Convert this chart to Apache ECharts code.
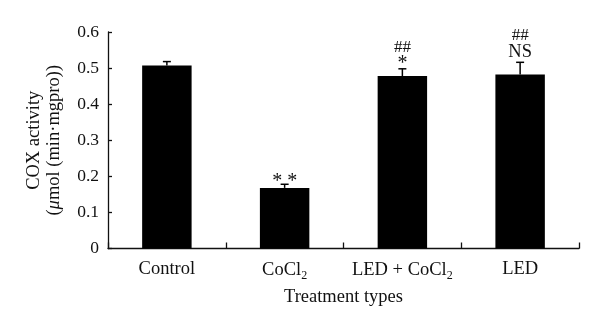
<!DOCTYPE html>
<html>
<head>
<meta charset="utf-8">
<script src="https://cdn.jsdelivr.net/npm/echarts@6/dist/echarts.min.js"></script>
<style>
  html, body { margin: 0; padding: 0; background: #fff; }
  #chart { width: 600px; height: 329px; }
</style>
</head>
<body>
<div id="chart"></div>
<script>
// COX activity per treatment group (mean and upper error)
const categories = ['Control', 'CoCl2', 'LED + CoCl2', 'LED'];
const coxActivity = [0.507, 0.168, 0.478, 0.482];
const errorUpper = [0.011, 0.010, 0.020, 0.034];
// significance marks drawn above each bar, bottom line first
const significance = [[], ['* *'], ['*', '##'], ['NS', '##']];
const yTicks = [0, 0.1, 0.2, 0.3, 0.4, 0.5, 0.6];

const FONT = 'Liberation Serif';
const chart = echarts.init(document.getElementById('chart'), null, { renderer: 'canvas' });

const errorData = coxActivity.map((v, i) => [i, v, v + errorUpper[i]]);

chart.setOption({
  animation: false,
  grid: { left: 108, right: 21, top: 32, bottom: 80.5 },
  xAxis: {
    type: 'category',
    data: categories,
    name: 'Treatment types',
    nameLocation: 'middle',
    nameGap: 39,
    nameTextStyle: { fontFamily: FONT, fontSize: 18.5, color: '#111' },
    axisLine: { lineStyle: { color: '#111', width: 1.3 } },
    axisTick: { show: true, inside: true, interval: 0, length: 6, lineStyle: { color: '#111', width: 1.3 } },
    axisLabel: {
      interval: 0,
      margin: 11,
      fontFamily: FONT, fontSize: 18.5, color: '#111',
      formatter: v => v.replace('Cl2', 'Cl{sub|2}'),
      rich: {
        sub: { fontFamily: FONT, fontSize: 12, color: '#111', padding: [10, 0, 0, 0] }
      }
    }
  },
  yAxis: {
    type: 'value',
    min: 0,
    max: 0.6,
    interval: 0.1,
    name: '{t|COX activity}\n{t|(}{i|μ}{t|mol (min·mgpro))}',
    nameLocation: 'middle',
    nameRotate: 90,
    nameGap: 44,
    nameTextStyle: {
      align: 'center',
      rich: {
        t: { fontFamily: FONT, fontSize: 18.5, color: '#111', lineHeight: 20, align: 'center' },
        i: { fontFamily: FONT, fontSize: 18.5, color: '#111', fontStyle: 'italic', lineHeight: 20, align: 'center' }
      }
    },
    splitLine: { show: false },
    axisLine: { show: true, lineStyle: { color: '#111', width: 1.3 } },
    axisTick: { show: true, inside: true, length: 4, lineStyle: { color: '#111', width: 1.3 } },
    axisLabel: {
      margin: 9,
      fontFamily: FONT, fontSize: 17.5, color: '#111',
      formatter: v => {
        const t = yTicks.find(x => Math.abs(x - v) < 1e-9);
        return t === 0 ? '0' : String(t);
      }
    }
  },
  series: [
    {
      type: 'bar',
      data: coxActivity,
      barWidth: '42%',
      itemStyle: { color: '#000' }
    },
    {
      type: 'custom',
      data: errorData,
      z: 5,
      renderItem: (params, api) => {
        const i = api.value(0);
        const base = api.coord([i, api.value(1)]);
        const top = api.coord([i, api.value(2)]);
        const cap = 4;
        const children = [
          { type: 'line', shape: { x1: base[0], y1: base[1], x2: top[0], y2: top[1] },
            style: { stroke: '#000', lineWidth: 1.5 } },
          { type: 'line', shape: { x1: top[0] - cap, y1: top[1], x2: top[0] + cap, y2: top[1] },
            style: { stroke: '#000', lineWidth: 1.5 } }
        ];
        const marks = significance[i];
        let c = top[1] - (marks.length > 1 ? 10 : 8);
        marks.forEach((m, k) => {
          const isStar = m.indexOf('*') >= 0;
          const isHash = m === '##';
          children.push({
            type: 'text',
            style: {
              text: m,
              x: top[0],
              y: isStar ? c + 5 : (isHash ? c + 1 : c),
              align: 'center',
              verticalAlign: 'middle',
              fontFamily: FONT,
              fontSize: isStar ? 20 : (isHash ? 17 : 18.5),
              fill: '#111'
            }
          });
          c -= isStar ? 12 : 18;
        });
        return { type: 'group', children };
      }
    }
  ]
});
</script>
</body>
</html>
